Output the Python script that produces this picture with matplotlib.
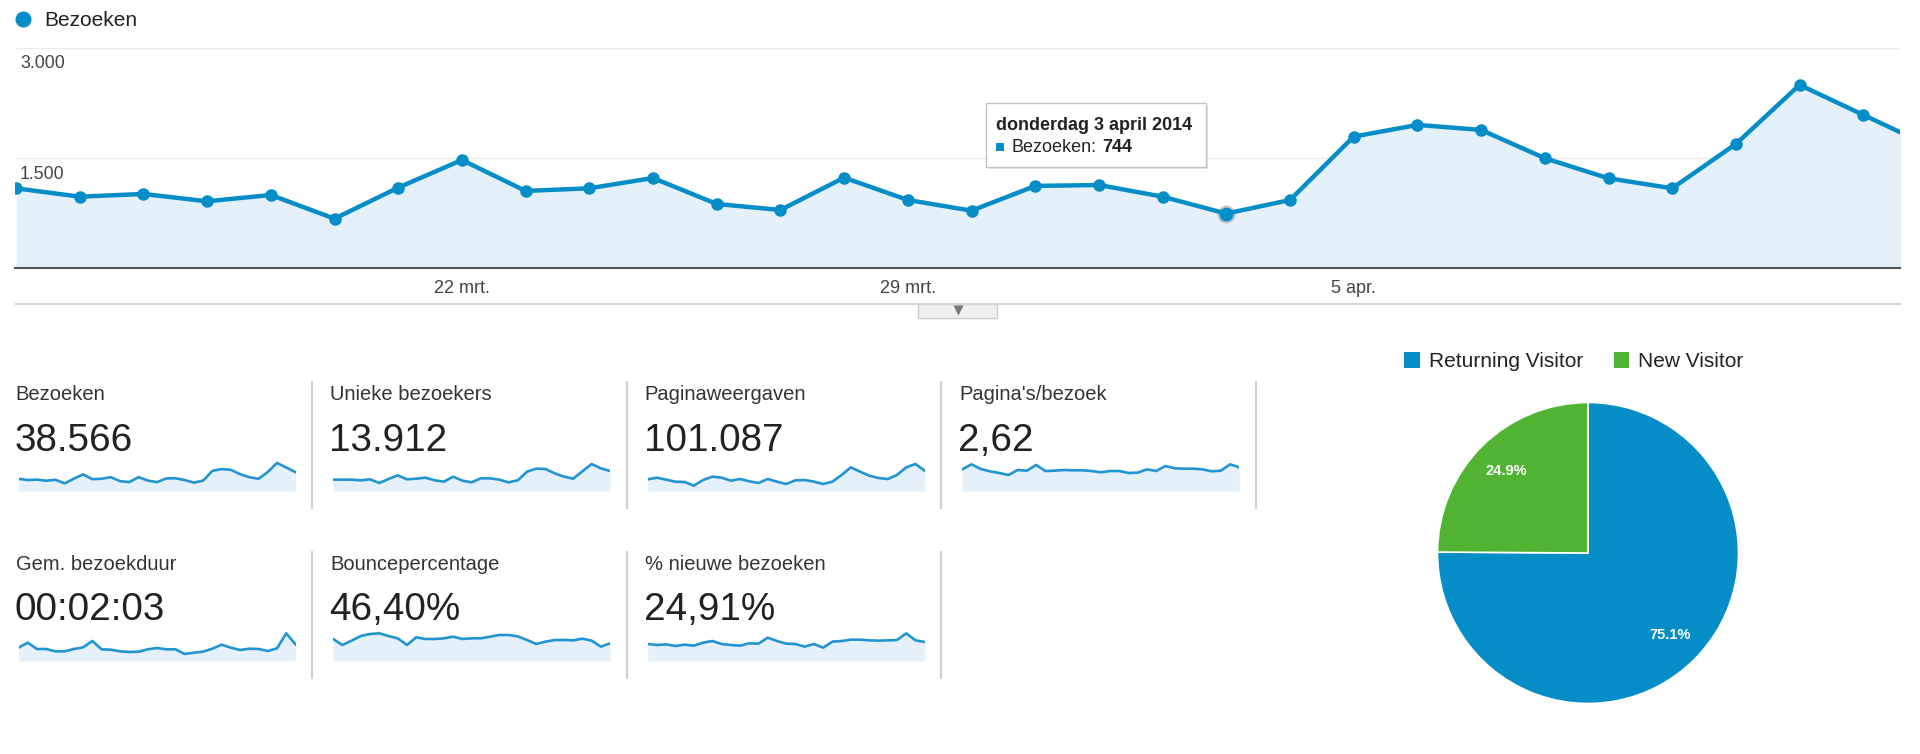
#!/usr/bin/env python3
"""
Analytics overview: visits per day, metric tiles with sparklines, visitor-type pie
"""
import numpy as np
import matplotlib
matplotlib.use('Agg')
import matplotlib.pyplot as plt
from matplotlib.patches import Rectangle

plt.rcParams['font.family'] = ['Liberation Sans', 'DejaVu Sans']

BLUE = '#058dc7'
SPARK_BLUE = '#2394d2'
GREEN = '#50b432'
FILL = '#e5f1fa'

# daily visits, 15 mrt. .. 14 apr. 2014 (last day sits just past the right edge)
visits = [1088, 974, 1011, 911, 997, 675, 1097, 1473, 1052, 1088,
          1228, 875, 793, 1233, 929, 784, 1120, 1133, 974, 744,
          929, 1791, 1950, 1882, 1497, 1224, 1088, 1691, 2494, 2086, 1680]
xtick_pos = [7, 14, 21]
xtick_labels = ['22 mrt.', '29 mrt.', '5 apr.']
ytick_vals = [1500, 3000]
ytick_labels = ['1.500', '3.000']
hover_idx = 19
hover_day = 'donderdag 3 april 2014'

# metric tiles
tile_titles = ['Bezoeken', 'Unieke bezoekers', 'Paginaweergaven', "Pagina's/bezoek",
               'Gem. bezoekduur', 'Bouncepercentage', '% nieuwe bezoeken']
tile_values = ['38.566', '13.912', '101.087', '2,62',
               '00:02:03', '46,40%', '24,91%']

# sparklines (relative heights)
spark_unique = [34, 34, 34, 32, 35, 24, 36, 47, 35, 37, 40, 32, 28, 43, 31, 26,
                38, 38, 34, 26, 32, 58, 67, 66, 53, 43, 37, 59, 81, 68, 60]
spark_pageviews = [35, 40, 34, 28, 27, 16, 33, 43, 40, 31, 36, 29, 24, 36, 28, 21,
                   32, 33, 28, 21, 28, 48, 71, 58, 46, 39, 36, 48, 71, 81, 61]
spark_pages_visit = [65, 80, 66, 59, 54, 48, 63, 61, 78, 60, 61, 63, 62, 62, 60, 56,
                     60, 60, 54, 55, 65, 60, 75, 68, 67, 67, 65, 59, 61, 80, 71]
spark_duration = [40, 55, 36, 36, 29, 29, 36, 41, 60, 35, 34, 29, 27, 28, 35, 39,
                  35, 35, 21, 25, 28, 37, 49, 40, 33, 37, 36, 30, 38, 83, 50]
spark_bounce = [66, 48, 61, 75, 81, 83, 75, 68, 48, 71, 66, 66, 68, 73, 66, 68,
                68, 73, 78, 78, 74, 63, 51, 58, 63, 63, 62, 67, 61, 43, 53]
spark_new = [51, 48, 50, 45, 49, 46, 55, 60, 51, 48, 46, 53, 52, 70, 60, 52,
             51, 43, 51, 40, 58, 60, 64, 64, 62, 61, 62, 63, 83, 62, 57]
sparks = [visits, spark_unique, spark_pageviews, spark_pages_visit,
          spark_duration, spark_bounce, spark_new]
spark_tops = [3200, 108, 108, 108, 108, 108, 108]

# visitor type
pie_labels = ['Returning Visitor', 'New Visitor']
pie_vals = [75.1, 24.9]
pie_colors = [BLUE, GREEN]

W, H = 1920, 754
fig = plt.figure(figsize=(W / 100, H / 100), dpi=100, facecolor='white')


def add_px_axes(x0, y0, x1, y1):
    """Axes placed by pixel box (top-left origin)"""
    return fig.add_axes([x0 / W, 1 - y1 / H, (x1 - x0) / W, (y1 - y0) / H])


# ---- main line chart
ax = add_px_axes(15, 47.7, 1900, 268.3)
x = np.arange(len(visits))
ax.fill_between(x, visits, 0, color=FILL, lw=0, zorder=1)
for v in ytick_vals:
    ax.axhline(v, color='#ebebeb', lw=1, zorder=0.5)
ax.plot(x, visits, color=BLUE, lw=3.2, marker='o', ms=8, zorder=3,
        solid_joinstyle='round')
ax.plot(x[hover_idx], visits[hover_idx], 'o', ms=12, color='#888', alpha=0.35, zorder=2.5)
ax.plot(x[hover_idx], visits[hover_idx], 'o', ms=9, color=BLUE, zorder=4)
ax.set_xlim((15 - 16) / 63.7, (1900 - 16) / 63.7)
ax.set_ylim(0, 3000)
ax.set_yticks([])
ax.set_xticks(xtick_pos, xtick_labels)
ax.tick_params(axis='x', length=0, pad=8.5, labelsize=13, labelcolor='#444')
for v, lbl in zip(ytick_vals, ytick_labels):
    ax.annotate(lbl, (0, v), xycoords=('axes fraction', 'data'), xytext=(3.6, -14.8),
                textcoords='offset points', va='baseline', ha='left',
                fontsize=12.8, color='#444')
for side in ['top', 'left', 'right']:
    ax.spines[side].set_visible(False)
ax.spines['bottom'].set_color('#555')
ax.spines['bottom'].set_linewidth(1.5)
ax.set_facecolor('none')

# ---- sparklines
tile_xs = [15.5 + 314.6 * c for c in range(4)]
row_title_base = [400, 570]
row_value_base = [450.7, 620]
row_spark = [(455, 491), (625, 661)]
row_sep = [(382, 508), (552, 678)]

for i, data in enumerate(sparks):
    r, c = divmod(i, 4)
    tx = tile_xs[c]
    top, bot = row_spark[r]
    sax = add_px_axes(tx + 3, top, tx + 280, bot)
    sx = np.arange(len(data))
    sax.fill_between(sx, data, 0, color=FILL, lw=0)
    sax.plot(sx, data, color=SPARK_BLUE, lw=1.9, solid_joinstyle='round')
    sax.set_xlim(0, len(data) - 1)
    sax.set_ylim(0, spark_tops[i])
    sax.axis('off')

# ---- visitor type pie
pax = add_px_axes(1588 - 150.5, 553 - 150.5, 1588 + 150.5, 553 + 150.5)
wedges, texts, autotexts = pax.pie(
    pie_vals, colors=pie_colors, startangle=90, counterclock=False,
    autopct='%.1f%%', pctdistance=0.77,
    wedgeprops=dict(edgecolor='white', linewidth=1.2),
    textprops=dict(color='white', fontsize=10.5, fontweight='bold'))
pax.set_xlim(-1, 1)
pax.set_ylim(-1, 1)
pax.set_aspect('equal')

# ---- overlay in pixel coordinates for the page furniture
ov = fig.add_axes([0, 0, 1, 1])
ov.set_xlim(0, W)
ov.set_ylim(H, 0)
ov.axis('off')

# series legend
ov.plot(23, 18.5, 'o', ms=10.5, color=BLUE)
ov.text(44.6, 26, 'Bezoeken', fontsize=15, color='#222', va='baseline')

# line below the x labels with the little drop-down tab
ov.plot([16, 1900], [304, 304], color='#d4d4d4', lw=1.5)
ov.add_patch(Rectangle((918, 304), 79, 13.5, fc='#f0f0f0', ec='#cdcdcd', lw=1))
ov.plot(957.5, 310, marker='v', ms=6.5, color='#777', mec='none')

# tooltip
ov.add_patch(Rectangle((987.7, 105.8), 220, 63.4, fc='#000', alpha=0.10, lw=0))
ov.add_patch(Rectangle((985.7, 103.3), 220, 63.4, fc='white', ec='#c4c4c4', lw=1))
ov.text(996.4, 130, hover_day, fontsize=13, fontweight='bold', color='#222', va='baseline')
ov.add_patch(Rectangle((996, 143), 8, 8, fc=BLUE, lw=0))
ov.text(1011.6, 151.7, 'Bezoeken:', fontsize=13, color='#222', va='baseline')
ov.text(1101.8, 151.7, f'{visits[hover_idx]}', fontsize=13, fontweight='bold',
        color='#222', va='baseline')

# tile texts and separators
for i, (title, value) in enumerate(zip(tile_titles, tile_values)):
    r, c = divmod(i, 4)
    tx = tile_xs[c]
    ov.text(tx, row_title_base[r], title, fontsize=14.5, color='#333', va='baseline')
    ov.text(tx - 1, row_value_base[r], value, fontsize=27.8, color='#222', va='baseline')
    sep_x = 312 + 314.6 * c
    ov.plot([sep_x, sep_x], row_sep[r], color='#d0d0d0', lw=1.5)

# pie legend
for sq_x, txt_x, lbl, col in zip([1404, 1613.5], [1429, 1638], pie_labels, pie_colors):
    ov.add_patch(Rectangle((sq_x, 352), 15.5, 15.5, fc=col, lw=0))
    ov.text(txt_x, 367.3, lbl, fontsize=15, color='#222', va='baseline')

fig.savefig('out.png', dpi=100, facecolor='white')
plt.close(fig)
